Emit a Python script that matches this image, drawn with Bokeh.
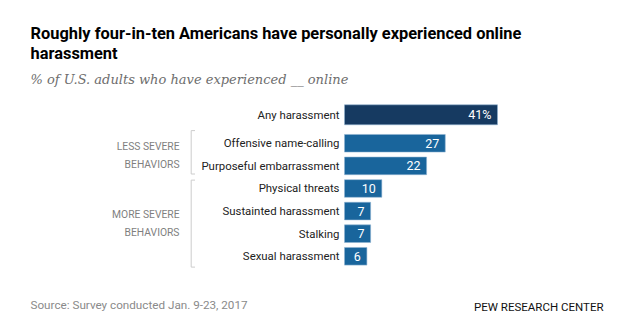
from bokeh.plotting import figure
from bokeh.models import Range1d, Label, ColumnDataSource
from bokeh.core.properties import value
from bokeh.embed import file_html
from bokeh.resources import INLINE

# ---- data ----
categories = ["Any harassment", "Offensive name-calling", "Purposeful embarrassment",
              "Physical threats", "Sustainted harassment", "Stalking", "Sexual harassment"]
values = [41, 27, 22, 10, 7, 7, 6]
value_labels = ["41%", "27", "22", "10", "7", "7", "6"]
groups = [
    ("LESS SEVERE\nBEHAVIORS", ["Offensive name-calling", "Purposeful embarrassment"]),
    ("MORE SEVERE\nBEHAVIORS", ["Physical threats", "Sustainted harassment", "Stalking", "Sexual harassment"]),
]
title_lines = ["Roughly four-in-ten Americans have personally experienced online", "harassment"]
subtitle = "% of U.S. adults who have experienced __ online"
source_text = "Source: Survey conducted Jan. 9-23, 2017"
brand = "PEW RESEARCH CENTER"

# ---- layout ----
W, H = 640, 321
X0_PX, PX_PER_UNIT = 344.0, 3.732
ROW_PX, TOP_CENTER_PX, GAP = 22.6, 114.3, 0.26

def px_x(px):
    return (px - X0_PX) / PX_PER_UNIT

ypos = [i + (GAP if i > 0 else 0) for i in range(len(categories))]
ymap = dict(zip(categories, ypos))

p = figure(width=W, height=H, output_backend="svg", toolbar_location=None,
           x_axis_location=None, y_axis_location=None, min_border=0,
           x_range=Range1d(px_x(0), px_x(W)),
           y_range=Range1d((H - TOP_CENTER_PX) / ROW_PX, -TOP_CENTER_PX / ROW_PX))
p.outline_line_color = None
p.xgrid.visible = False
p.ygrid.visible = False
p.background_fill_color = "white"
p.border_fill_color = "white"

colors = ["#163a61"] + ["#19659c"] * (len(categories) - 1)
heights = [0.885] + [0.78] * (len(categories) - 1)
src = ColumnDataSource(dict(cat=categories, y=ypos, v=values, vl=value_labels,
                            c=colors, h=heights))

p.hbar(y="y", left=0, right="v", height="h", source=src, fill_color="c",
       line_color="#8fb3d3", line_width=0.8, line_alpha=0.7)

p.text(x=0, y="y", text="cat", source=src, x_offset=-5, text_align="right",
       text_baseline="middle", text_font=value("Roboto"),
       text_font_size="11.4px", text_color="#222222")
p.text(x="v", y="y", text="vl", source=src, x_offset=-6, text_align="right",
       text_baseline="middle", text_font=value("Roboto"),
       text_font_size="12.5px", text_color="white")

# group brackets and labels
bx = px_x(190.7)
btx = px_x(194.5)
for gi, (glabel, members) in enumerate(groups):
    ys = [ymap[m] for m in members]
    first, last = min(ys), max(ys)
    top = first - 0.56 if gi == 0 else first - 0.37
    bot = last + 0.36 if gi == 0 else last + 0.48
    p.segment(x0=[bx, bx, bx], y0=[top, top, bot], x1=[bx, btx, btx], y1=[bot, top, bot],
              line_color="#cccccc", line_width=1)
    p.text(x=[px_x(179)], y=[(first + last) / 2 + 0.04], text=[glabel],
           text_align="right", text_baseline="middle", text_line_height=1.35,
           text_font=value("Roboto"), text_font_size="10.3px",
           text_color="#7f7f7f")

def add_label(txt, x, y_top_px, font, size, color, style="normal", align="left"):
    p.add_layout(Label(x=x, y=H - y_top_px, x_units="screen", y_units="screen",
                       text=txt, text_font=font, text_font_size=size,
                       text_color=color, text_font_style=style,
                       text_align=align, text_baseline="alphabetic"))

add_label(title_lines[0], 30, 33, "Roboto", "16.4px", "#000000", "bold")
add_label(title_lines[1], 30, 53, "Roboto", "16.4px", "#000000", "bold")
add_label(subtitle, 30, 79, "DejaVu Serif", "13px", "#6d6d6d", "italic")
add_label(source_text, 30, 304, "Roboto", "11.7px", "#8a8a8a")
add_label(brand, 603, 306, "Roboto", "11.5px", "#111111", "normal", "right")

open("out.html", "w").write(file_html(p, INLINE))
